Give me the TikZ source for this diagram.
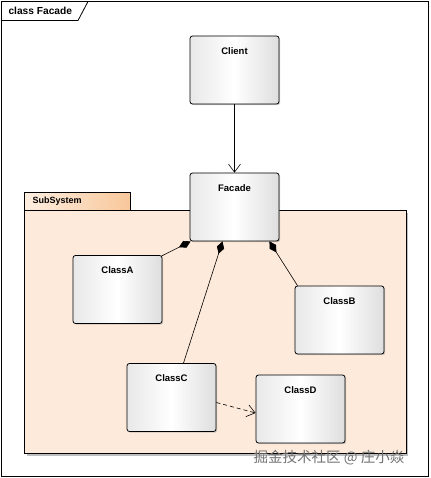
\documentclass[tikz,border=0pt]{standalone}
\usepackage{fontspec}
\setmainfont{Liberation Sans}
\newfontfamily\cjkfont{Noto Sans CJK SC}
\usetikzlibrary{arrows.meta,shadows,positioning}
\definecolor{pkgfill}{HTML}{FDEADB}
\definecolor{tabright}{HTML}{F8C79A}
\definecolor{tableft}{HTML}{FDEEE0}
\tikzset{
  classbox/.style={draw=black, line width=0.8pt, rounded corners=2.5pt,
    minimum width=89pt, minimum height=68pt,
    left color=black!9, right color=black!13, middle color=white,
    drop shadow={opacity=0.35, shadow xshift=1.2pt, shadow yshift=-1.2pt}},
  clabel/.style={font=\bfseries\fontsize{9.5}{11}\selectfont},
  comp/.style={draw=black, line width=0.6pt, {Diamond[length=13pt,width=7.5pt]}-},
  assoc/.style={draw=black, line width=0.6pt, -{Straight Barb[length=8pt,width=12pt]}},
  dep/.style={assoc, dashed, dash pattern=on 4pt off 3pt}
}
\begin{document}
\begin{tikzpicture}[x=1pt,y=-1pt]
\useasboundingbox (0,0) rectangle (430,478);
\fill[white] (0,0) rectangle (430,478);
% outer frame
\draw[line width=0.8pt] (1.5,1.5) rectangle (428,476);
\draw[line width=0.8pt] (1.5,20.5) -- (78,20.5) -- (88,1.5);
\node[anchor=west, font=\bfseries\fontsize{10.2}{12}\selectfont] (title) at (5,11) {class Facade};
% package
\fill[black!25] (27,213) rectangle (408,455.5);
\draw[line width=0.8pt, fill=pkgfill] (24.5,210.5) rectangle (406,453);
\draw[line width=0.8pt, left color=tableft, right color=tabright] (24.5,192.5) rectangle (130,210.5);
\node[anchor=west, font=\bfseries\fontsize{9}{11}\selectfont] (pkg) at (29,201.5) {SubSystem};
% classes
\node[classbox] (client) at (234.5,70) {};
\node[clabel, below=8pt of client.north] (clientl) {Client};
\node[classbox] (facade) at (234.5,207) {};
\node[clabel, below=8pt of facade.north] (facadel) {Facade};
\node[classbox] (classa) at (117.5,289.5) {};
\node[clabel, below=8pt of classa.north] (classal) {ClassA};
\node[classbox] (classb) at (339.5,320) {};
\node[clabel, below=8pt of classb.north] (classbl) {ClassB};
\node[classbox] (classc) at (171.5,397.5) {};
\node[clabel, below=8pt of classc.north] (classcl) {ClassC};
\node[classbox] (classd) at (300.5,409) {};
\node[clabel, below=8pt of classd.north] (classdl) {ClassD};
% connectors
\draw[assoc] (client.south) -- (facade.north);
\draw[comp] ([xshift=1pt,yshift=0pt]facade.south west) -- ([xshift=-1pt,yshift=-1pt]classa.north east);
\draw[comp] ([xshift=-12pt]facade.south) -- ([xshift=12pt]classc.north);
\draw[comp] ([xshift=-10pt]facade.south east) -- ([xshift=-42pt]classb.north);
\draw[dep] ([yshift=-5pt]classc.east) -- ([yshift=-4pt]classd.west);
% watermark
\node[anchor=west, text=black!55, font=\fontsize{14.5}{16}\selectfont] (wm) at (250,458) {\cjkfont 掘金技术社区 @ 庄小焱};
\end{tikzpicture}
\end{document}
